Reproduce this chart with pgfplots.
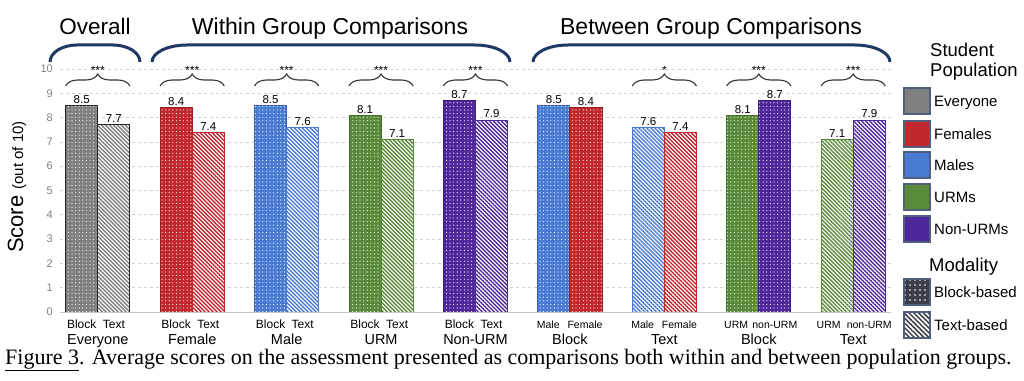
\documentclass[border=0pt]{standalone}
\usepackage{pgfplots}
\pgfplotsset{compat=1.18}
\usepackage{fontspec}
\setmainfont{Liberation Sans}
\newfontfamily\capfont{Liberation Serif}
\usetikzlibrary{patterns.meta, decorations.pathreplacing}

\definecolor{cgray}{HTML}{7F7F7F}
\definecolor{cred}{HTML}{C1272D}
\definecolor{cblue}{HTML}{4A7BD3}
\definecolor{cgreen}{HTML}{588A3A}
\definecolor{cpurple}{HTML}{4E279B}
\definecolor{navy}{HTML}{1F3864}
\definecolor{legb}{HTML}{4F5F7D}
\definecolor{cdark}{HTML}{3A3E46}

\tikzset{
  blk/.style={preaction={fill=#1}, pattern={Dots[distance=3.6pt, radius=0.6pt]}, pattern color=white, draw=#1!80!black, line width=0.9pt},
  txt/.style={preaction={fill=white}, pattern={Lines[angle=-45, distance=2.8pt, line width=1.4pt]}, pattern color=#1, draw=#1, line width=0.9pt},
  sig/.style={decorate, decoration={brace, amplitude=12pt}, line width=1.1pt, draw=black!80},
  bigbr/.style={draw=navy, line width=3pt},
  sl/.style={anchor=base, yshift=-16pt, inner sep=0pt, font=\fs{12}},
  sm/.style={anchor=base, yshift=-16pt, inner sep=0pt, font=\fs{10.5}},
  gl/.style={anchor=base, yshift=-32.5pt, inner sep=0pt, font=\fs{14.5}},
}

\newcommand{\fs}[1]{\fontsize{#1}{#1}\selectfont}

\begin{document}
\begin{tikzpicture}[x=1pt,y=1pt]
\path[use as bounding box] (0,0) rectangle (1024,380);

\begin{axis}[
  at={(60pt,68pt)}, anchor=south west,
  scale only axis, width=831pt, height=243pt,
  xmin=-0.4, xmax=8.4, ymin=0, ymax=10,
  ybar, bar width=0.34,
  axis line style={draw=none},
  ytick={0,1,...,10}, xtick=\empty,
  ymajorgrids, grid style={dashed, color=black!18, line width=0.7pt},
  major tick length=0pt,
  yticklabel style={font=\fs{11}, text=black!50, inner sep=0pt, xshift=-7pt},
  /pgf/number format/assume math mode=true,
  clip=false,
  nodes near coords={\pgfmathprintnumber[fixed,fixed zerofill,precision=1]{\pgfplotspointmeta}},
  every node near coord/.append style={font=\fs{11.5}, text=black, anchor=south, inner sep=1.5pt},
]
% Overall
\addplot[blk=cgray, draw=black!85, bar shift=-0.17] coordinates {(0,8.5)};
\addplot[txt=cgray, draw=black!85, bar shift=0.17] coordinates {(0,7.7)};
% Female
\addplot[blk=cred, bar shift=-0.17] coordinates {(1,8.4)};
\addplot[txt=cred, bar shift=0.17] coordinates {(1,7.4)};
% Male
\addplot[blk=cblue, bar shift=-0.17] coordinates {(2,8.5)};
\addplot[txt=cblue, bar shift=0.17] coordinates {(2,7.6)};
% URM
\addplot[blk=cgreen, bar shift=-0.17] coordinates {(3,8.1)};
\addplot[txt=cgreen, bar shift=0.17] coordinates {(3,7.1)};
% Non-URM
\addplot[blk=cpurple, bar shift=-0.17] coordinates {(4,8.7)};
\addplot[txt=cpurple, bar shift=0.17] coordinates {(4,7.9)};
% Between: Block male/female
\addplot[blk=cblue, bar shift=-0.17] coordinates {(5,8.5)};
\addplot[blk=cred, bar shift=0.17] coordinates {(5,8.4)};
% Text male/female
\addplot[txt=cblue, bar shift=-0.17] coordinates {(6,7.6)};
\addplot[txt=cred, bar shift=0.17] coordinates {(6,7.4)};
% Block URM/non-URM
\addplot[blk=cgreen, bar shift=-0.17] coordinates {(7,8.1)};
\addplot[blk=cpurple, bar shift=0.17] coordinates {(7,8.7)};
% Text URM/non-URM
\addplot[txt=cgreen, bar shift=-0.17] coordinates {(8,7.1)};
\addplot[txt=cpurple, bar shift=0.17] coordinates {(8,7.9)};

% baseline
\draw[black!22, line width=1pt] (axis cs:-0.4,0) -- (axis cs:8.4,0);

% significance braces
\draw[sig] (axis cs:-0.34,9.3) -- (axis cs:0.34,9.3);
\node[anchor=base, font=\fs{12}] at (axis cs:0,9.79) {***};
\draw[sig] (axis cs:0.66,9.3) -- (axis cs:1.34,9.3);
\node[anchor=base, font=\fs{12}] at (axis cs:1,9.79) {***};
\draw[sig] (axis cs:1.66,9.3) -- (axis cs:2.34,9.3);
\node[anchor=base, font=\fs{12}] at (axis cs:2,9.79) {***};
\draw[sig] (axis cs:2.66,9.3) -- (axis cs:3.34,9.3);
\node[anchor=base, font=\fs{12}] at (axis cs:3,9.79) {***};
\draw[sig] (axis cs:3.66,9.3) -- (axis cs:4.34,9.3);
\node[anchor=base, font=\fs{12}] at (axis cs:4,9.79) {***};
\draw[sig] (axis cs:5.66,9.3) -- (axis cs:6.34,9.3);
\node[anchor=base, font=\fs{12}] at (axis cs:6,9.79) {*};
\draw[sig] (axis cs:6.66,9.3) -- (axis cs:7.34,9.3);
\node[anchor=base, font=\fs{12}] at (axis cs:7,9.79) {***};
\draw[sig] (axis cs:7.66,9.3) -- (axis cs:8.34,9.3);
\node[anchor=base, font=\fs{12}] at (axis cs:8,9.79) {***};

% small x labels
\node[sl] at (axis cs:-0.17,0) {Block};
\node[sl] at (axis cs:0.17,0) {Text};
\node[sl] at (axis cs:0.83,0) {Block};
\node[sl] at (axis cs:1.17,0) {Text};
\node[sl] at (axis cs:1.83,0) {Block};
\node[sl] at (axis cs:2.17,0) {Text};
\node[sl] at (axis cs:2.83,0) {Block};
\node[sl] at (axis cs:3.17,0) {Text};
\node[sl] at (axis cs:3.83,0) {Block};
\node[sl] at (axis cs:4.17,0) {Text};
\node[sm] at (axis cs:4.77,0) {Male};
\node[sm] at (axis cs:5.16,0) {Female};
\node[sm] at (axis cs:5.77,0) {Male};
\node[sm] at (axis cs:6.16,0) {Female};
\node[sm] at (axis cs:6.76,0) {URM};
\node[sm] at (axis cs:7.17,0) {non-URM};
\node[sm] at (axis cs:7.74,0) {URM};
\node[sm] at (axis cs:8.17,0) {non-URM};
% group labels
\node[gl] at (axis cs:0,0) {Everyone};
\node[gl] at (axis cs:1,0) {Female};
\node[gl] at (axis cs:2,0) {Male};
\node[gl] at (axis cs:3,0) {URM};
\node[gl] at (axis cs:4,0) {Non-URM};
\node[gl] at (axis cs:5,0) {Block};
\node[gl] at (axis cs:6,0) {Text};
\node[gl] at (axis cs:7,0) {Block};
\node[gl] at (axis cs:8,0) {Text};
\end{axis}

% y label
\node[rotate=90, anchor=center] at (17,193) {\fs{22}Score \fs{15}(out of 10)};

% top titles and brackets
\node[anchor=base, font=\fs{22.5}] at (95,345) {Overall};
\node[anchor=base, font=\fs{23}] at (330,345) {Within Group Comparisons};
\node[anchor=base, font=\fs{23}] at (711,345) {Between Group Comparisons};
\draw[bigbr] (50,318) arc[start angle=180, end angle=90, x radius=27pt, y radius=17pt] -- (113,335) arc[start angle=90, end angle=0, x radius=27pt, y radius=17pt];
\draw[bigbr] (152,318) arc[start angle=180, end angle=90, x radius=35pt, y radius=17pt] -- (475,335) arc[start angle=90, end angle=0, x radius=35pt, y radius=17pt];
\draw[bigbr] (533,318) arc[start angle=180, end angle=90, x radius=35pt, y radius=17pt] -- (855,335) arc[start angle=90, end angle=0, x radius=35pt, y radius=17pt];

% legend
\node[anchor=base west, inner sep=0pt, font=\fs{18.5}] at (930,323) {Student};
\node[anchor=base west, inner sep=0pt, font=\fs{18.5}] at (930,303.5) {Population};
\draw[fill=cgray, draw=legb, line width=1.3pt] (904,266) rectangle (930,292);
\node[anchor=base west, inner sep=0pt, font=\fs{15}] at (934,273.5) {Everyone};
\draw[fill=cred, draw=legb, line width=1.3pt] (904,233) rectangle (930,259);
\node[anchor=base west, inner sep=0pt, font=\fs{15}] at (934,240.5) {Females};
\draw[fill=cblue, draw=legb, line width=1.3pt] (904,202) rectangle (930,228);
\node[anchor=base west, inner sep=0pt, font=\fs{15}] at (934,209.5) {Males};
\draw[fill=cgreen, draw=legb, line width=1.3pt] (904,170) rectangle (930,196);
\node[anchor=base west, inner sep=0pt, font=\fs{15}] at (934,177.5) {URMs};
\draw[fill=cpurple, draw=legb, line width=1.3pt] (904,138) rectangle (930,164);
\node[anchor=base west, inner sep=0pt, font=\fs{15}] at (934,145.5) {Non-URMs};
\node[anchor=base west, inner sep=0pt, font=\fs{18.5}] at (929,108) {Modality};
\draw[preaction={fill=cdark}, pattern={Dots[distance=5pt, radius=0.8pt]}, pattern color=white, draw=legb, line width=1.3pt] (904,75) rectangle (930,101);
\node[anchor=base west, inner sep=0pt, font=\fs{15}] at (934,82.5) {Block-based};
\draw[preaction={fill=white}, pattern={Lines[angle=-45, distance=3.4pt, line width=1.5pt]}, pattern color=cdark, draw=legb, line width=1.3pt] (904,42) rectangle (930,68);
\node[anchor=base west, inner sep=0pt, font=\fs{15}] at (934,49.5) {Text-based};

% caption
\node[anchor=base west, inner sep=0pt, font=\capfont\fs{22}] at (5,15.5) {\underline{Figure 3}. Average scores on the assessment presented as comparisons both within and between population groups.};
\end{tikzpicture}
\end{document}
